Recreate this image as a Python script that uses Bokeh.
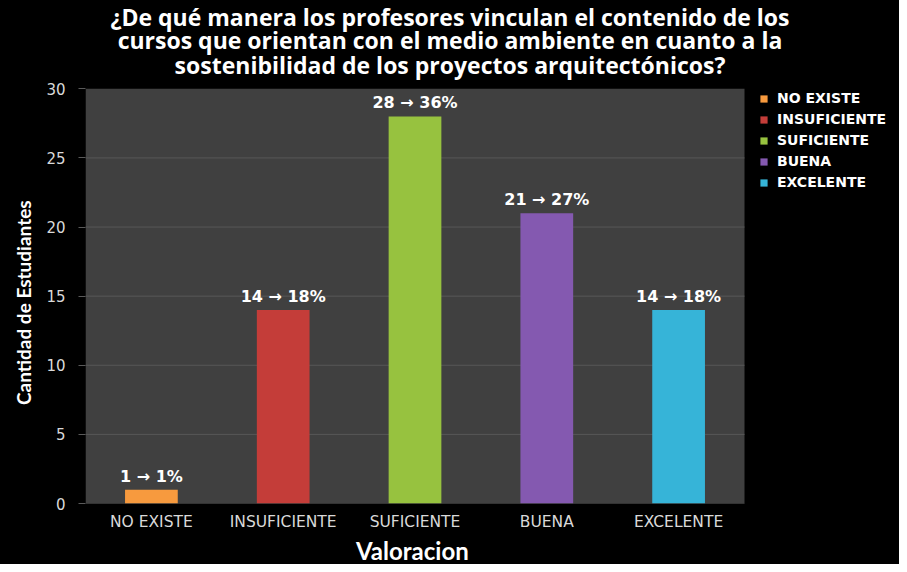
from bokeh.plotting import figure
from bokeh.models import (ColumnDataSource, Range1d, FixedTicker, Legend,
                          LegendItem, BoxAnnotation, Title)
from bokeh.embed import file_html
from bokeh.resources import INLINE
from bokeh.core.properties import value

# ---- data ----
categories = ["NO EXISTE", "INSUFICIENTE", "SUFICIENTE", "BUENA", "EXCELENTE"]
counts = [1, 14, 28, 21, 14]
percents = [1, 18, 36, 27, 18]
colors = ["#F79A3E", "#C43D39", "#97C23F", "#8459B0", "#36B4D8"]
y_ticks = [0, 5, 10, 15, 20, 25, 30]
title_lines = [
    "¿De qué manera los profesores vinculan el contenido de los",
    "cursos que orientan con el medio ambiente en cuanto a la",
    "sostenibilidad de los proyectos arquitectónicos?",
]
x_label = "Valoracion"
y_label = "Cantidad de Estudiantes"

# ---- layout constants (pixels) ----
W, H = 899, 564
LEFT, BOTTOM = 85, 57          # borders around the frame
TOP_GAP = 89                   # frame top -> top of grey area
PLOT_W = 659                   # width of the grey plotting area
FRAME_W, FRAME_H = W - LEFT, H - BOTTOM
PLOT_H = FRAME_H - TOP_GAP

n_cat = len(categories)
y_max = y_ticks[-1]
x_end = n_cat * FRAME_W / PLOT_W
y_end = y_max * FRAME_H / PLOT_H
px_x = PLOT_W / n_cat           # pixels per x unit
px_y = PLOT_H / y_max           # pixels per y unit

xpos = [i + 0.5 for i in range(n_cat)]
bar_labels = [f"{c} \u2192 {p}%" for c, p in zip(counts, percents)]
src = ColumnDataSource(dict(x=xpos, n=counts, color=colors, label=bar_labels))

p = figure(
    width=W, height=H,
    x_range=Range1d(0, x_end), y_range=Range1d(0, y_end),
    output_backend="svg", toolbar_location=None,
    min_border_left=LEFT, min_border_right=0,
    min_border_top=0, min_border_bottom=BOTTOM,
)
p.background_fill_color = "black"
p.border_fill_color = "black"
p.outline_line_color = None
p.grid.grid_line_color = None
p.styles = {"background-color": "black"}

# grey plotting area
p.add_layout(BoxAnnotation(left=0, right=n_cat, bottom=0, top=y_max,
                           fill_color="#404040", fill_alpha=1,
                           line_color=None, level="underlay"))
# horizontal grid lines at the y ticks
gy = y_ticks[:-1]
p.segment(x0=[0] * len(gy), x1=[n_cat] * len(gy), y0=gy, y1=gy,
          line_color="#575757", line_width=1)

r = p.vbar(x="x", top="n", width=0.4, fill_color="color", line_color=None,
           source=src)

p.text(x="x", y="n", text="label", source=src, text_align="center",
       text_baseline="bottom", y_offset=-4, text_color="white",
       text_font=value("DejaVu Sans"), text_font_style="bold",
       text_font_size="16px")

# title (three centred lines at the top of the canvas)
title_cx = (449.5 - LEFT) / px_x
title_ys = [(FRAME_H - sy) / px_y for sy in (17, 40, 65)]
tsrc = ColumnDataSource(dict(x=[title_cx] * 3, y=title_ys, text=title_lines))
p.text(x="x", y="y", text="text", source=tsrc, text_align="center",
       text_baseline="middle", text_color="white",
       text_font=value("Open Sans"), text_font_style="bold",
       text_font_size="23px")

# y axis
p.yaxis.ticker = FixedTicker(ticks=y_ticks)
p.yaxis.axis_line_color = None
p.yaxis.major_tick_line_color = "#5a5a5a"
p.yaxis.major_tick_out = 7
p.yaxis.major_tick_in = 0
p.yaxis.minor_tick_line_color = None
p.yaxis.major_label_text_color = "#d9d9d9"
p.yaxis.major_label_text_font = "DejaVu Sans"
p.yaxis.major_label_text_font_size = "15px"
p.yaxis.major_label_standoff = 13

# x axis
p.xaxis.ticker = FixedTicker(ticks=xpos)
p.xaxis.major_label_overrides = {x: c for x, c in zip(xpos, categories)}
p.xaxis.axis_line_color = None
p.xaxis.major_tick_line_color = None
p.xaxis.minor_tick_line_color = None
p.xaxis.major_tick_out = 0
p.xaxis.major_tick_in = 0
p.xaxis.major_label_text_color = "#d9d9d9"
p.xaxis.major_label_text_font = "DejaVu Sans"
p.xaxis.major_label_text_font_size = "15.5px"
p.xaxis.major_label_standoff = 9

# axis titles, centred on the grey area (not on the wider frame)
ylab_len = 221
p.add_layout(Title(text=y_label, align="left",
                   offset=PLOT_H / 2 - ylab_len / 2, standoff=18,
                   text_color="white", text_font="Lato",
                   text_font_style="bold", text_font_size="19px"), "left")
xlab_len = 118
p.add_layout(Title(text=x_label, align="left",
                   offset=PLOT_W / 2 - xlab_len / 2, standoff=0,
                   text_color="white", text_font="Lato",
                   text_font_style="bold", text_font_size="24px"), "below")

# legend, to the right of the grey area
items = [LegendItem(label=c, renderers=[r], index=i) for i, c in enumerate(categories)]
lg = Legend(items=items, location=(PLOT_W + 15, FRAME_H - TOP_GAP - 105))
lg.background_fill_alpha = 0
lg.border_line_color = None
lg.padding = 0
lg.margin = 0
lg.spacing = 5
lg.glyph_width = 9
lg.glyph_height = 9
lg.label_height = 16
lg.label_standoff = 9
lg.label_text_color = "white"
lg.label_text_font = "DejaVu Sans"
lg.label_text_font_style = "bold"
lg.label_text_font_size = "14px"
p.add_layout(lg, "center")

open("out.html", "w").write(file_html(p, INLINE))
